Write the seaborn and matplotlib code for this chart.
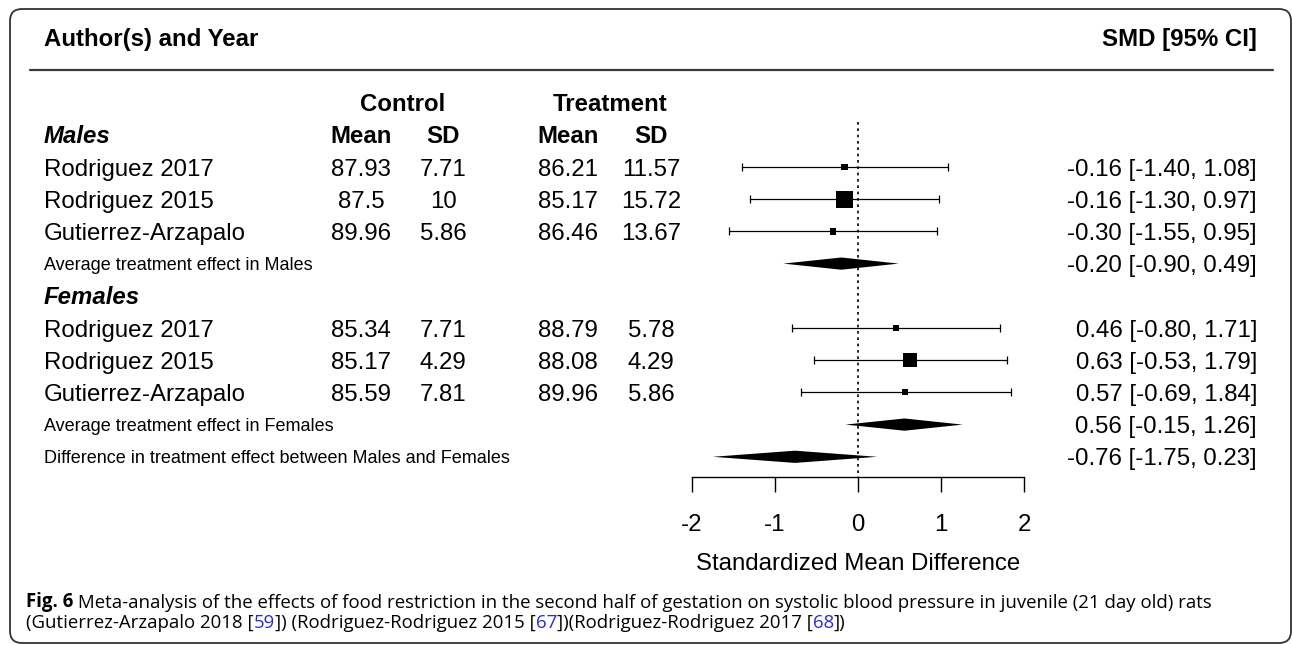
import matplotlib
matplotlib.use("Agg")
import matplotlib.pyplot as plt
import matplotlib.transforms as mtransforms
from matplotlib.patches import FancyBboxPatch
import pandas as pd
import seaborn as sns

# --- data ---
studies = ["Rodriguez 2017", "Rodriguez 2015", "Gutierrez-Arzapalo"]

male_ctrl_mean = [87.93, 87.5, 89.96]
male_ctrl_sd = [7.71, 10, 5.86]
male_trt_mean = [86.21, 85.17, 86.46]
male_trt_sd = [11.57, 15.72, 13.67]

female_ctrl_mean = [85.34, 85.17, 85.59]
female_ctrl_sd = [7.71, 4.29, 7.81]
female_trt_mean = [88.79, 88.08, 89.96]
female_trt_sd = [5.78, 4.29, 5.86]

male_smd = [-0.16, -0.16, -0.30]
male_lo = [-1.40, -1.30, -1.55]
male_hi = [1.08, 0.97, 0.95]

female_smd = [0.46, 0.63, 0.57]
female_lo = [-0.80, -0.53, -0.69]
female_hi = [1.71, 1.79, 1.84]

# relative study weights (from the square sizes)
weights = [6.9, 44.1, 6.2, 6.2, 31.4, 5.2]

pooled_labels = ["Average treatment effect in Males",
                 "Average treatment effect in Females",
                 "Difference in treatment effect between Males and Females"]
pooled_est = [-0.20, 0.56, -0.76]
pooled_lo = [-0.90, -0.15, -1.75]
pooled_hi = [0.49, 1.26, 0.23]

ticks = [-2, -1, 0, 1, 2]

# --- layout ---
W, H = 1292, 645
X0, PPU = 858, 83      # pixel of SMD = 0, pixels per SMD unit
Y2, PPR = 167, 32.2    # pixel of row 2, pixels per row
male_rows = [2, 3, 4]
female_rows = [7, 8, 9]
pooled_rows = [5, 10, 11]
FS = 17.3              # main font size (pt)


def xd(px):
    return (px - X0) / PPU


def yd(py):
    return 2 + (py - Y2) / PPR


sns.set_style("white")
plt.rcParams["font.family"] = ["Liberation Sans", "DejaVu Sans"]
plt.rcParams["axes.unicode_minus"] = False

fig = plt.figure(figsize=(W / 100, H / 100), dpi=100)
ax = fig.add_axes([0, 0, 1, 1])
ax.set_facecolor("none")

df = pd.DataFrame({
    "study": studies * 2,
    "smd": male_smd + female_smd,
    "lo": male_lo + female_lo,
    "hi": male_hi + female_hi,
    "weight": weights,
    "row": male_rows + female_rows,
})

# confidence intervals
ax.errorbar(df["smd"], df["row"], xerr=[df["smd"] - df["lo"], df["hi"] - df["smd"]],
            fmt="none", ecolor="black", elinewidth=0.9, capsize=2.9, capthick=0.9, zorder=2)
# study squares
sns.scatterplot(data=df, x="smd", y="row", size="weight", sizes=(0, 150),
                size_norm=(0, max(weights)), marker="s", color="black",
                linewidth=0, legend=False, ax=ax, zorder=3)
# pooled diamonds
for est, lo, hi, r in zip(pooled_est, pooled_lo, pooled_hi, pooled_rows):
    ax.fill([lo, est, hi, est], [r, r - 0.19, r, r + 0.19], color="black", lw=0, zorder=3)

axis_row = yd(477)
ax.plot([0, 0], [yd(122), axis_row], color="black", lw=1.2, ls=(0, (1.6, 2.2)), zorder=1)

ax.set_xlim(xd(0), xd(W))
ax.set_ylim(yd(H), yd(0))

for s in ["top", "left", "right"]:
    ax.spines[s].set_visible(False)
ax.spines["bottom"].set_position(("data", axis_row))
ax.spines["bottom"].set_bounds(-2, 2)
ax.spines["bottom"].set_linewidth(1.0)
ax.spines["bottom"].set_color("black")
ax.set_xticks(ticks)
ax.set_xticklabels([str(t) for t in ticks])
ax.set_yticks([])
ax.set_ylabel("")
ax.tick_params(axis="x", direction="out", length=10.8, width=1.0, pad=15.5,
               labelsize=FS, colors="black", bottom=True)
ax.set_xlabel("Standardized Mean Difference", fontsize=FS, color="black")
ax.xaxis.set_label_coords(0, yd(564), transform=ax.transData)
ax.xaxis.label.set_va("center")


def put(x_px, row, s, ha="left", size=FS, **kw):
    off = 0.497 * size / PPR   # half cap height, in rows
    ax.text(xd(x_px), row + off, s, ha=ha, va="baseline", fontsize=size, color="black", **kw)


# header
put(44, yd(37), "Author(s) and Year", weight="bold")
put(1257, yd(37), "SMD [95% CI]", ha="right", weight="bold")
ax.plot([xd(30), xd(1273)], [yd(70), yd(70)], color="#3a3a3a", lw=1.6)

cols = [361, 443, 568, 651]
put(403, 0, "Control", ha="center", weight="bold")
put(610, 0, "Treatment", ha="center", weight="bold")
for c, lab in zip(cols, ["Mean", "SD", "Mean", "SD"]):
    put(c, 1, lab, ha="center", weight="bold")
put(44, 1, "Males", weight="bold", style="italic")
put(44, 6, "Females", weight="bold", style="italic")

groups = [
    (male_rows, [male_ctrl_mean, male_ctrl_sd, male_trt_mean, male_trt_sd], male_smd, male_lo, male_hi),
    (female_rows, [female_ctrl_mean, female_ctrl_sd, female_trt_mean, female_trt_sd], female_smd, female_lo, female_hi),
]
for rows, vals, est, lo, hi in groups:
    for i, r in enumerate(rows):
        put(44, r, studies[i])
        for c, v in zip(cols, vals):
            put(c, r, f"{v[i]:g}", ha="center")
        put(1257, r, f"{est[i]:.2f} [{lo[i]:.2f}, {hi[i]:.2f}]", ha="right")

for lab, est, lo, hi, r in zip(pooled_labels, pooled_est, pooled_lo, pooled_hi, pooled_rows):
    put(44, r, lab, size=13)
    put(1257, r, f"{est:.2f} [{lo:.2f}, {hi:.2f}]", ha="right")

# caption
CAP = 13.5
BLUE = "#2a2ae0"
cap_lines = [
    [("Fig. 6", "bold", "black"),
     (" Meta-analysis of the effects of food restriction in the second half of gestation "
      "on systolic blood pressure in juvenile (21 day old) rats", "normal", "black")],
    [("(Gutierrez-Arzapalo 2018 [", "normal", "black"), ("59", "normal", BLUE),
     ("]) (Rodriguez-Rodriguez 2015 [", "normal", "black"), ("67", "normal", BLUE),
     ("])(Rodriguez-Rodriguez 2017 [", "normal", "black"), ("68", "normal", BLUE),
     ("])", "normal", "black")],
]
cap_artists = []
line_start = None
for li, pieces in enumerate(cap_lines):
    prev = None
    for txt, wt, col in pieces:
        kw = dict(fontsize=CAP, fontweight=wt, color=col, family="Open Sans")
        if prev is None and line_start is None:
            prev = ax.annotate(txt, xy=(26, H - 607), xycoords="figure pixels",
                               ha="left", va="baseline", **kw)
            line_start = prev
        elif prev is None:
            # next line hangs under the start of the first line
            prev = ax.annotate(txt, xy=(0, 0), xycoords=line_start, xytext=(0, -14.4),
                               textcoords="offset points", ha="left", va="bottom", **kw)
        else:
            prev = ax.annotate(txt, xy=(1, 0), xycoords=prev, ha="left", va="bottom", **kw)
        cap_artists.append(prev)
    if li == 0:
        first_line_end = prev

# scale the caption font so the first line ends where the reference's does
fig.canvas.draw()
right = first_line_end.get_window_extent().x1
scale = (1213 - 26) / (right - 26)
for t in cap_artists:
    t.set_fontsize(CAP * scale)

# rounded frame
frame = FancyBboxPatch((10, 2), 1281, 634, boxstyle="round,pad=0,rounding_size=12",
                       transform=mtransforms.IdentityTransform(), fill=False,
                       ec="#333333", lw=1.3)
fig.add_artist(frame)

fig.savefig("out.png", dpi=100, facecolor="white")
